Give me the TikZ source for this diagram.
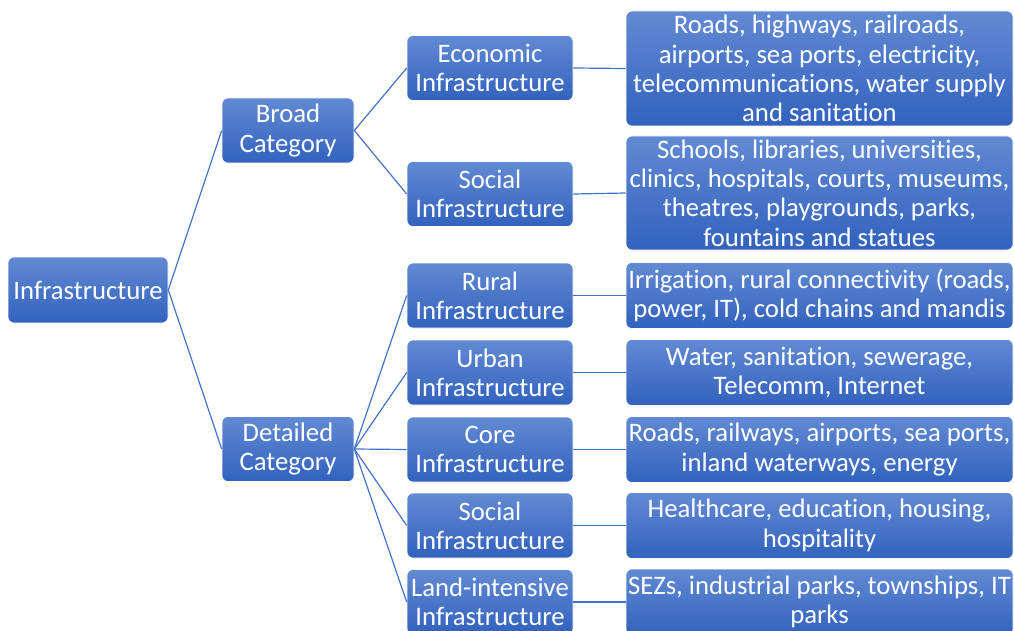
\documentclass[tikz,border=0pt]{standalone}
\usepackage{fontspec}
\setmainfont[Ligatures=NoCommon]{Carlito}
\begin{document}
\begin{tikzpicture}[x=1pt,y=-1pt,
  box/.style={draw=white, line width=0.6pt, rounded corners=6pt,
    top color={rgb,255:red,98;green,138;blue,211},
    bottom color={rgb,255:red,50;green,98;blue,190},
    text=white, align=center, inner sep=1pt,
    font=\fontsize{26.7}{29.3}\selectfont},
  rootbox/.style={box, minimum width=160pt, minimum height=66pt},
  catbox/.style={box, minimum width=132pt, minimum height=65pt},
  typebox/.style={box, minimum width=166pt, minimum height=65pt},
  leafbox/.style={box, minimum width=387pt, minimum height=66pt},
  link/.style={draw={rgb,255:red,68;green,114;blue,196}, line width=1.2pt}]
\useasboundingbox (0,0) rectangle (1014,631);
\clip (0,0) rectangle (1014,631);

% root and categories
\node[rootbox] (infra) at (88,290) {Infrastructure};
\node[catbox] (broad) at (288,130.5) {Broad\\Category};
\node[catbox] (detail) at (288,449) {Detailed\\Category};

% infrastructure types
\node[typebox] (econ) at (490,68) {Economic\\Infrastructure};
\node[typebox] (socb) at (490,194) {Social\\Infrastructure};
\node[typebox] (rural) at (490,295.5) {Rural\\Infrastructure};
\node[typebox] (urban) at (490,372.5) {Urban\\Infrastructure};
\node[typebox] (core) at (490,449.5) {Core\\Infrastructure};
\node[typebox] (socd) at (490,525.5) {Social\\Infrastructure};
\node[typebox] (land) at (490,602) {Land-intensive\\Infrastructure};

% examples
\node[leafbox, minimum height=115pt] (l1) at (819.5,68.5)
  {Roads, highways, railroads,\\airports, sea ports, electricity,\\telecommunications, water supply\\and sanitation};
\node[leafbox, minimum height=114pt] (l2) at (819.5,193)
  {Schools, libraries, universities,\\clinics, hospitals, courts, museums,\\theatres, playgrounds, parks,\\fountains and statues};
\node[leafbox] (l3) at (819.5,295.5)
  {Irrigation, rural connectivity (roads,\\power, IT), cold chains and mandis};
\node[leafbox] (l4) at (819.5,372.5)
  {Water, sanitation, sewerage,\\Telecomm, Internet};
\node[leafbox] (l5) at (819.5,449.5)
  {Roads, railways, airports, sea ports,\\inland waterways, energy};
\node[leafbox] (l6) at (819.5,525.5)
  {Healthcare, education, housing,\\hospitality};
\node[leafbox] (l7) at (819.5,602)
  {SEZs, industrial parks, townships, IT\\parks};

% connectors
\draw[link] (infra.east) -- (broad.west);
\draw[link] (infra.east) -- (detail.west);
\draw[link] (broad.east) -- (econ.west);
\draw[link] (broad.east) -- (socb.west);
\foreach \t in {rural,urban,core,socd,land}
  \draw[link] (detail.east) -- (\t.west);
\draw[link] (econ.east) -- (l1.west);
\draw[link] (socb.east) -- (l2.west);
\draw[link] (rural.east) -- (l3.west);
\draw[link] (urban.east) -- (l4.west);
\draw[link] (core.east) -- (l5.west);
\draw[link] (socd.east) -- (l6.west);
\draw[link] (land.east) -- (l7.west);
\end{tikzpicture}
\end{document}
